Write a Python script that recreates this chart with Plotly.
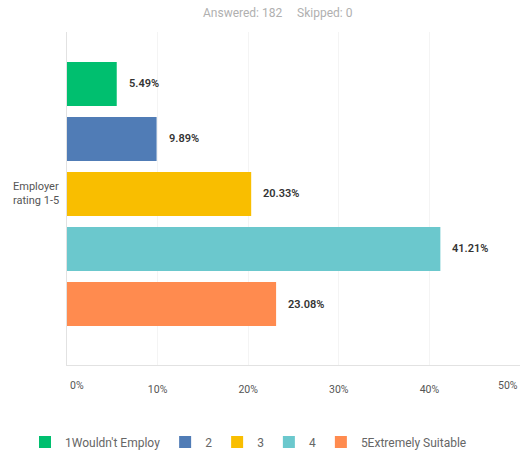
import plotly.graph_objects as go

categories = ["1Wouldn't Employ", "2", "3", "4", "5Extremely Suitable"]
values = [5.49, 9.89, 20.33, 41.21, 23.08]
colors = ["#00BF6F", "#507CB6", "#F9BE00", "#6BC8CD", "#FF8B4F"]
tick_vals = [0, 10, 20, 30, 40, 50]
tick_labels = ["0%", "10%", "20%", "30%", "40%", "50%"]
group_label = "Employer<br>rating 1-5"
header = "Answered: 182&nbsp;&nbsp;&nbsp;&nbsp;&nbsp;Skipped: 0"

FONT = "Roboto, Lato, Arial, sans-serif"

fig = go.Figure()
for i, (cat, val, col) in enumerate(zip(categories, values, colors)):
    fig.add_trace(go.Bar(
        x=[val], y=[i], name=cat, orientation="h",
        marker=dict(color=col, line=dict(width=0)),
        width=0.8, hoverinfo="x+name",
    ))
    fig.add_annotation(
        x=val, y=i, xref="x", yref="y", text=f"{val:.2f}%",
        showarrow=False, xanchor="left", xshift=10,
        font=dict(family=FONT, size=11, color="#333333", weight=600),
    )

W, H = 525, 464
ml, mr, mt, mb = 67, 5, 32, H - 365
pw = W - ml - mr
ph = H - mt - mb

# group label on the left
fig.add_annotation(
    x=-(ml - 11) / pw, y=2, xref="paper", yref="y", text=group_label,
    showarrow=False, xanchor="left", align="left",
    font=dict(family=FONT, size=11, color="#555555"),
)
# header
fig.add_annotation(
    x=(278 - ml) / pw, y=1 + (mt - 13) / ph, xref="paper", yref="paper",
    text=header, showarrow=False, xanchor="center", yanchor="middle",
    font=dict(family=FONT, size=12, color="#b0b0b0"),
)
# edge tick labels shifted inward like the reference
fig.add_annotation(x=tick_vals[0], y=0, xref="x", yref="paper", text=tick_labels[0],
                   showarrow=False, xanchor="center", yanchor="middle", xshift=10, yshift=-20,
                   font=dict(family=FONT, size=10.5, color="#555555"))
fig.add_annotation(x=tick_vals[-1], y=0, xref="x", yref="paper", text=tick_labels[-1],
                   showarrow=False, xanchor="center", yanchor="middle", xshift=-12, yshift=-20,
                   font=dict(family=FONT, size=10.5, color="#555555"))

fig.update_layout(
    width=W, height=H,
    margin=dict(l=ml, r=mr, t=mt, b=mb),
    paper_bgcolor="white", plot_bgcolor="white",
    font=dict(family=FONT, color="#555555"),
    barmode="overlay",
    showlegend=True,
    legend=dict(orientation="h", x=(25 - ml) / pw, xanchor="left",
                y=-(442 - 365) / ph, yanchor="middle",
                font=dict(family=FONT, size=12, color="#666666"),
                itemsizing="constant", itemwidth=30, tracegroupgap=0),
    xaxis=dict(range=[0, 50], tickvals=tick_vals,
               ticktext=[""] + tick_labels[1:-1] + [""],
               showgrid=True, gridcolor="#f4f4f4", gridwidth=1,
               zeroline=False, showline=True, linecolor="#e2e2e2", linewidth=1,
               ticks="", ticklabelstandoff=14,
               tickfont=dict(family=FONT, size=10.5, color="#555555"),
               fixedrange=True),
    yaxis=dict(range=[5.109, -0.945], showticklabels=False, showgrid=False,
               zeroline=False, showline=True, linecolor="#e2e2e2", linewidth=1,
               ticks="", fixedrange=True),
)

fig.write_html("out.html", config={"displayModeBar": False},
               post_script="document.body.style.margin='0px';")
